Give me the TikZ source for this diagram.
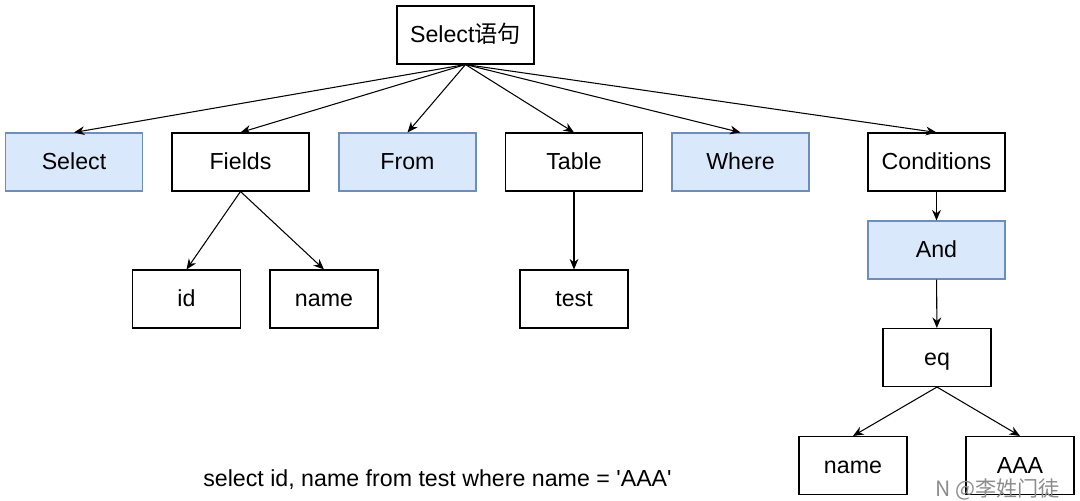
\documentclass[tikz,border=0pt]{standalone}
\usepackage{fontspec}
\setmainfont{Liberation Sans}
\newfontfamily\cjk{Noto Sans CJK SC}
\usetikzlibrary{arrows.meta,positioning}
\tikzset{>={Stealth[length=6pt,width=5pt]}}
\definecolor{keyfill}{HTML}{DAE8FC}
\definecolor{keydraw}{HTML}{6C8EBF}
\tikzset{
  bigbox/.style={draw=black, line width=0.6pt, minimum width=2.74cm, minimum height=1.16cm, inner sep=0pt, text height=10.6pt, text depth=1.6pt, font=\fontsize{13.2}{15}\selectfont},
  smallbox/.style={bigbox, minimum width=2.16cm},
  keybox/.style={bigbox, draw=keydraw, fill=keyfill},
  link/.style={->, line width=0.6pt}
}

\begin{document}
\begin{tikzpicture}[x=0.02cm, y=-0.02cm]
			\useasboundingbox (0, 0) rectangle (1080, 501);
			% root
			\node[bigbox] (root) at (465.5, 35) {Select{\cjk 语句}};
			% keywords and operands
			\node[keybox] (kselect) at (74, 162) {Select};
			\node[bigbox] (fields) at (240.5, 162) {Fields};
			\node[keybox] (kfrom) at (407.5, 162) {From};
			\node[bigbox] (table) at (574, 162) {Table};
			\node[keybox] (kwhere) at (740.5, 162) {Where};
			\node[bigbox] (conds) at (936.5, 162) {Conditions};
			% leaves
			\node[smallbox] (fid) at (186.5, 299) {id};
			\node[smallbox] (fname) at (324, 299) {name};
			\node[smallbox] (ttest) at (574, 299) {test};
			\node[keybox] (kand) at (936.5, 250) {And};
			\node[smallbox] (eq) at (937, 357.5) {eq};
			\node[smallbox] (lhs) at (853, 465.5) {name};
			\node[smallbox] (rhs) at (1020, 465.5) {AAA};
			% arrows
			\foreach \t in {kselect, fields, kfrom, table, kwhere, conds}
				\draw[link] (root.south) -- (\t.north);
			\draw[link] (fields.south) -- (fid.north);
			\draw[link] (fields.south) -- (fname.north);
			\draw[link] (table) -- (ttest);
			\draw[link] (conds) -- (kand);
			\draw[link] (kand) -- (eq);
			\draw[link] (eq.south) -- (lhs.north);
			\draw[link] (eq.south) -- (rhs.north);
			% sql text
			\node[font=\fontsize{13.2}{15}\selectfont] (sql) at (437.5, 480) {select id, name from test where name = \textquotesingle AAA\textquotesingle};
			\node[font=\fontsize{12}{14}\selectfont\cjk, text=black!45, anchor=east] (mark) at (1066, 489) {N @李姓门徒};
		\end{tikzpicture}
\end{document}
